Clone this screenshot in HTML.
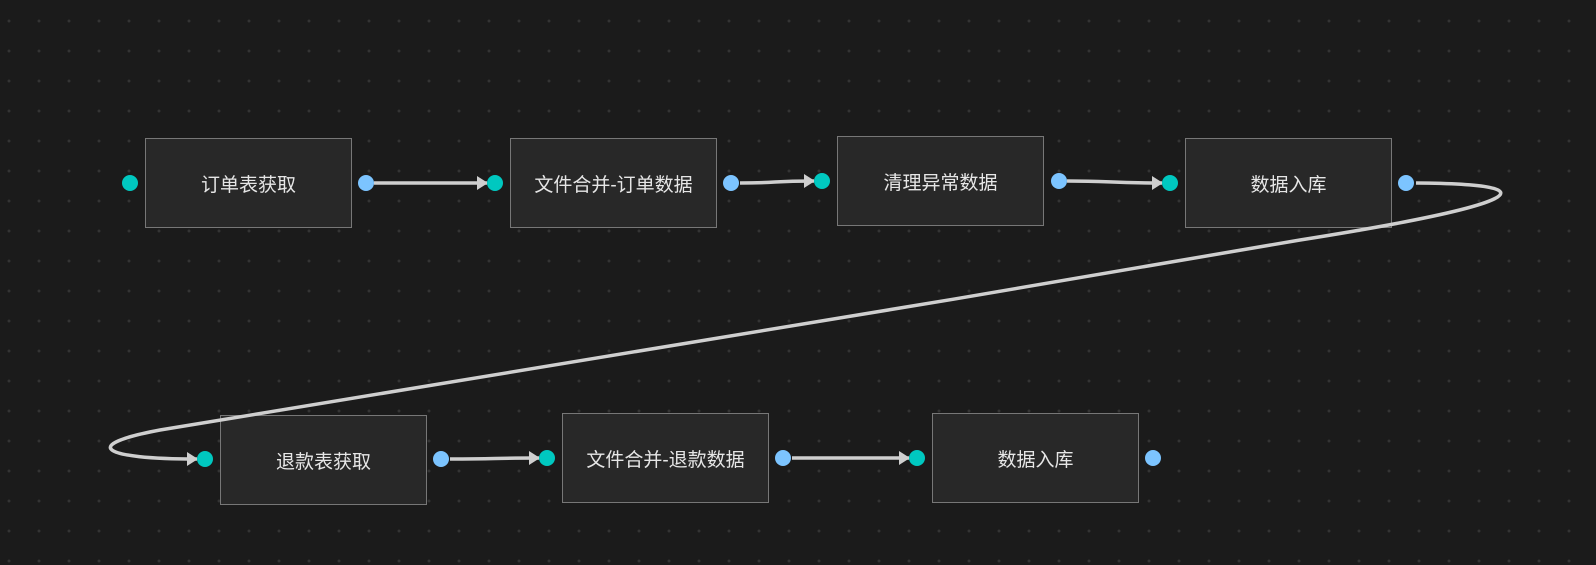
<!DOCTYPE html>
<html><head><meta charset="utf-8"><style>
body{margin:0;width:1596px;height:565px;overflow:hidden;background:#1b1b1b;
background-image:radial-gradient(circle,#343434 1.3px,transparent 1.6px);background-size:30px 30px;background-position:-6px 6px;
font-family:"Liberation Sans","Noto Sans CJK SC",sans-serif;}
.b{position:absolute;width:205px;height:87px;background:#282828;border:1px solid #777;box-sizing:border-box;color:#e6e6e6;font-size:19px;display:flex;align-items:center;justify-content:center;}
svg{position:absolute;left:0;top:0}
</style></head><body>
<div class="b" style="left:145px;top:138px;width:207px;height:90px">订单表获取</div>
<div class="b" style="left:510px;top:138px;width:207px;height:90px">文件合并-订单数据</div>
<div class="b" style="left:837px;top:136px;width:207px;height:90px">清理异常数据</div>
<div class="b" style="left:1185px;top:138px;width:207px;height:90px">数据入库</div>
<div class="b" style="left:220px;top:415px;width:207px;height:90px">退款表获取</div>
<div class="b" style="left:562px;top:413px;width:207px;height:90px">文件合并-退款数据</div>
<div class="b" style="left:932px;top:413px;width:207px;height:90px">数据入库</div>
<svg width="1596" height="565">
<defs><marker id="a" markerWidth="11" markerHeight="14" refX="10" refY="7" orient="auto" markerUnits="userSpaceOnUse"><path d="M0,0L11,7L0,14z" fill="#cfcfcf"/></marker></defs>
<g stroke="#cfcfcf" stroke-width="3.5" fill="none" marker-end="url(#a)">
<path d="M374,183L487,183"/>
<path d="M740,183C780,183 770,181 814,181"/>
<path d="M1067,181C1110,181 1110,183 1162,183"/>
<path d="M1416,183C1560,184 1520,205 1300,240C900,310 400,390 160,430C80,445 100,459 197,459"/>
<path d="M450,459C500,459 490,458 539,458"/>
<path d="M792,458L909,458"/>
</g>
<g fill="#00c8c0"><circle cx="130" cy="183" r="8"/><circle cx="495" cy="183" r="8"/><circle cx="822" cy="181" r="8"/><circle cx="1170" cy="183" r="8"/><circle cx="205" cy="459" r="8"/><circle cx="547" cy="458" r="8"/><circle cx="917" cy="458" r="8"/></g>
<g fill="#7cc4ff"><circle cx="366" cy="183" r="8"/><circle cx="731" cy="183" r="8"/><circle cx="1059" cy="181" r="8"/><circle cx="1406" cy="183" r="8"/><circle cx="441" cy="459" r="8"/><circle cx="783" cy="458" r="8"/><circle cx="1153" cy="458" r="8"/></g>
</svg>
</body></html>
